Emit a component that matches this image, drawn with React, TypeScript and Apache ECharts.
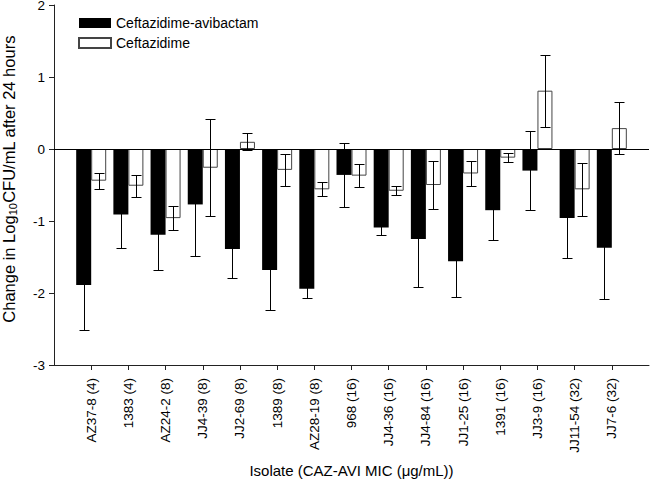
import React, { useEffect, useRef } from "react";
import * as echarts from "echarts";

const categories = [
  "AZ37-8 (4)", "1383 (4)", "AZ24-2 (8)", "JJ4-39 (8)", "JJ2-69 (8)",
  "1389 (8)", "AZ28-19 (8)", "968 (16)", "JJ4-36 (16)", "JJ4-84 (16)",
  "JJ1-25 (16)", "1391 (16)", "JJ3-9 (16)", "JJ11-54 (32)", "JJ7-6 (32)",
];
const cazAvi = [-1.89, -0.91, -1.19, -0.77, -1.39, -1.68, -1.94, -0.36, -1.09, -1.25, -1.56, -0.85, -0.3, -0.96, -1.37];
const cazAviErr = [0.62, 0.46, 0.49, 0.71, 0.4, 0.56, 0.13, 0.44, 0.1, 0.67, 0.49, 0.42, 0.55, 0.55, 0.71];
const caz = [-0.44, -0.51, -0.96, -0.26, 0.1, -0.29, -0.56, -0.37, -0.58, -0.5, -0.34, -0.12, 0.81, -0.56, 0.29];
const cazErr = [0.11, 0.15, 0.17, 0.67, 0.12, 0.22, 0.095, 0.155, 0.063, 0.34, 0.17, 0.063, 0.5, 0.37, 0.36];
const yTicks = { min: -3, max: 2, interval: 1 };

const FONT = "'Liberation Sans', Arial, Helvetica, sans-serif";

function errSeries(name: string, vals: number[], errs: number[], offset: number) {
  return {
    type: "custom",
    name,
    z: 5,
    silent: true,
    data: vals.map((v, i) => [i + 1, v - errs[i], v + errs[i]]),
    encode: { x: 0, y: [1, 2] },
    renderItem: (_params: any, api: any) => {
      const x = api.value(0);
      const pLo = api.coord([x, api.value(1)]);
      const pHi = api.coord([x, api.value(2)]);
      const cx = Math.round(pLo[0] + offset) + 0.5;
      const yLo = Math.round(pLo[1]) + 0.5;
      const yHi = Math.round(pHi[1]) + 0.5;
      const st = { stroke: "#000", lineWidth: 1 };
      return {
        type: "group",
        children: [
          { type: "line", shape: { x1: cx, y1: yLo, x2: cx, y2: yHi }, style: st },
          { type: "line", shape: { x1: cx - 5, y1: yLo, x2: cx + 5, y2: yLo }, style: st },
          { type: "line", shape: { x1: cx - 5, y1: yHi, x2: cx + 5, y2: yHi }, style: st },
        ],
      };
    },
  };
}

export default function App() {
  const ref = useRef<HTMLDivElement>(null);
  useEffect(() => {
    if (!ref.current) return;
    const chart = echarts.init(ref.current, null, { renderer: "svg" });
    const axisData = ["", ...categories, ""];
    const pad = (a: number[]) => ["-", ...a, "-"];
    chart.setOption({
      animation: false,
      textStyle: { fontFamily: FONT, color: "#000" },
      grid: { left: 54, right: 1, top: 5, bottom: 115, outerBoundsMode: "none", containLabel: false },
      legend: {
        orient: "vertical",
        left: 73,
        top: 11,
        itemWidth: 32,
        itemHeight: 10,
        itemGap: 6,
        itemTextGap: 8,
        icon: "rect",
        data: ["Ceftazidime-avibactam", "Ceftazidime"],
        textStyle: { fontFamily: FONT, fontSize: 14, color: "#000" },
      },
      graphic: [
        {
          type: "text",
          x: 9,
          y: 179,
          rotation: Math.PI / 2,
          silent: true,
          style: {
            text: "{a|Change in Log}{s|10}{a|CFU/mL after 24 hours}",
            align: "center",
            verticalAlign: "middle",
            fontFamily: FONT,
            fill: "#000",
            rich: {
              a: { fontSize: 16.5, fontFamily: FONT, fill: "#000", lineHeight: 19 },
              s: { fontSize: 11, fontFamily: FONT, fill: "#000", verticalAlign: "bottom", lineHeight: 12, padding: [9, 0, 0, 0] },
            },
          },
        },
      ],
      xAxis: {
        type: "category",
        data: axisData,
        boundaryGap: false,
        axisLine: { onZero: false, lineStyle: { color: "#222", width: 1 } },
        axisTick: {
          length: 5,
          lineStyle: { color: "#222" },
          interval: (i: number) => i > 0 && i < axisData.length - 1,
        },
        axisLabel: {
          interval: 0,
          rotate: 90,
          margin: 13,
          fontSize: 13.5,
          fontFamily: FONT,
          color: "#000",
        },
        name: "Isolate (CAZ-AVI MIC (μg/mL))",
        nameLocation: "middle",
        nameGap: 98,
        nameTextStyle: { fontSize: 15, fontFamily: FONT, color: "#000" },
        splitLine: { show: false },
      },
      yAxis: {
        type: "value",
        min: yTicks.min,
        max: yTicks.max,
        interval: yTicks.interval,
        axisLine: { show: true, lineStyle: { color: "#222", width: 1 } },
        axisTick: { show: true, length: 5, lineStyle: { color: "#222" } },
        axisLabel: { margin: 9, fontSize: 13.5, fontFamily: FONT, color: "#000" },
        splitLine: { show: false },
      },
      series: [
        {
          type: "bar",
          name: "Ceftazidime-avibactam",
          data: pad(cazAvi),
          barWidth: 15,
          barGap: "0%",
          itemStyle: { color: "#000", borderColor: "#000", borderWidth: 0 },
          markLine: {
            silent: true,
            symbol: "none",
            label: { show: false },
            lineStyle: { color: "#000", width: 1, type: "solid" },
            data: [{ yAxis: 0 }],
          },
        },
        {
          type: "bar",
          name: "Ceftazidime",
          data: pad(caz),
          barWidth: 15,
          barGap: "0%",
          itemStyle: { color: "#fff", borderColor: "#444", borderWidth: 1 },
        },
        errSeries("errAvi", cazAvi, cazAviErr, -7.5),
        errSeries("errCaz", caz, cazErr, 7.5),
      ],
    });
    return () => chart.dispose();
  }, []);
  return (
    <div
      ref={ref}
      style={{ position: "fixed", left: 0, top: 0, width: 650, height: 480, background: "#fff" }}
    />
  );
}
